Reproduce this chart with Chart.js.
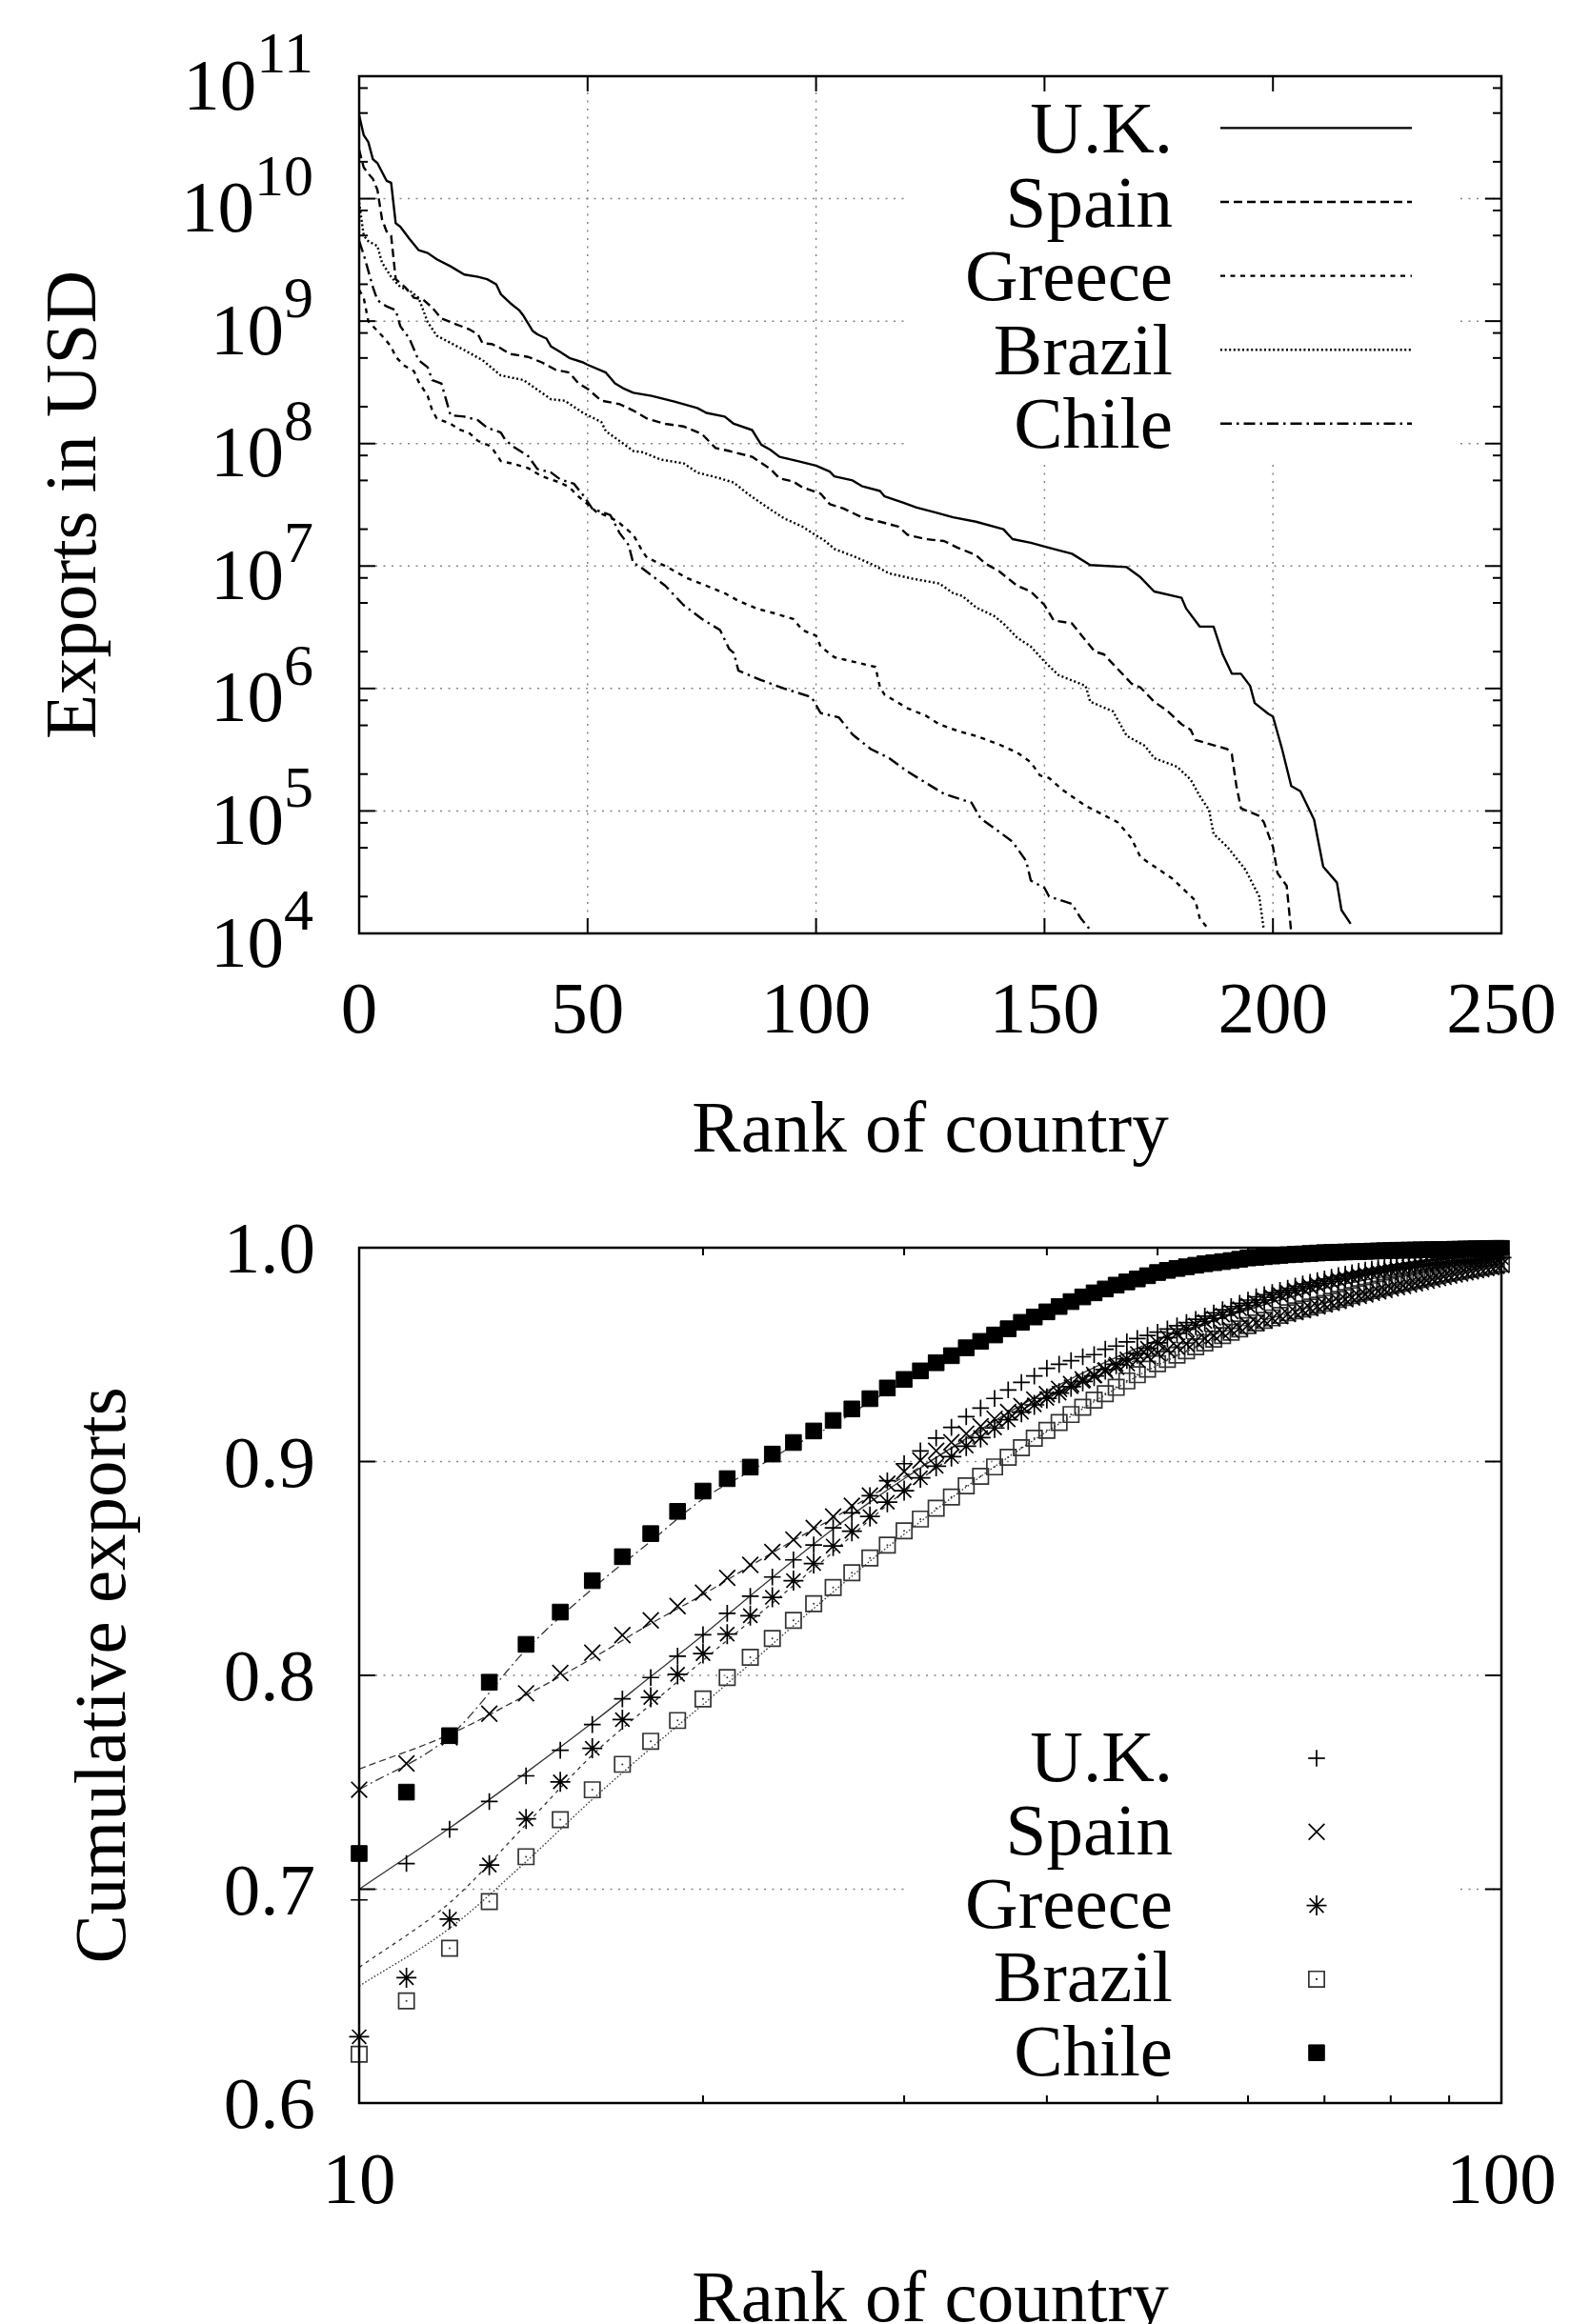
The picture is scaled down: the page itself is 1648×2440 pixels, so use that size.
<!DOCTYPE html>
<html>
<head>
<meta charset="utf-8">
<title>Exports by rank of country</title>
<script src="https://cdn.jsdelivr.net/npm/chart.js@4.4.1/dist/chart.umd.min.js"></script>
<style>
  html, body { margin: 0; padding: 0; background: #fff; }
  #page { position: relative; width: 1648px; height: 2440px; overflow: hidden; }
  canvas { position: absolute; left: 0; display: block; }
  #exportsChart { top: 0; }
  #cumulativeChart { top: 1220px; }
</style>
</head>
<body>
<div id="page">
<canvas id="cumulativeChart" width="1648" height="1220"></canvas>
<canvas id="exportsChart" width="1648" height="1250"></canvas>
</div>
<script>
// ---- top panel: exports (USD) to each partner, ranked ----
const ukRank = [0, 1, 2, 3, 4, 6, 7, 8, 9, 11, 13, 15, 17, 20, 23, 26, 28, 30, 31, 33, 35, 36, 38, 39, 41, 42, 44, 46, 49, 50, 54, 56, 58, 60, 64, 69, 74, 76, 80, 82, 86, 88, 90, 92, 96, 100, 103, 104, 108, 110, 114, 115, 119, 122, 126, 130, 135, 141, 143, 147, 151, 156, 160, 168, 171, 174, 180, 181, 184, 187, 189, 191, 193, 195, 196, 199, 200, 202, 204, 206, 209, 211, 214, 215, 217];
const ukExports = [4.8e10, 3.3e10, 2.9e10, 2.1e10, 1.95e10, 1.4e10, 1.35e10, 6.3e9, 5.9e9, 4.7e9, 3.8e9, 3.6e9, 3.2e9, 2.8e9, 2.4e9, 2.3e9, 2.2e9, 2.0e9, 1.66e9, 1.41e9, 1.23e9, 1.1e9, 8.3e8, 7.8e8, 7.2e8, 6.2e8, 5.6e8, 5.0e8, 4.6e8, 4.4e8, 3.8e8, 3.1e8, 2.8e8, 2.6e8, 2.45e8, 2.2e8, 1.95e8, 1.78e8, 1.66e8, 1.45e8, 1.29e8, 9.8e7, 8.9e7, 7.8e7, 7.2e7, 6.6e7, 5.9e7, 5.4e7, 5.0e7, 4.5e7, 4.1e7, 3.7e7, 3.3e7, 3.0e7, 2.75e7, 2.5e7, 2.3e7, 2.0e7, 1.66e7, 1.55e7, 1.41e7, 1.26e7, 1.02e7, 9.8e6, 8.1e6, 6.2e6, 5.5e6, 4.5e6, 3.2e6, 3.2e6, 1.9e6, 1.32e6, 1.32e6, 1.05e6, 7.6e5, 6.2e5, 5.9e5, 3.2e5, 1.6e5, 1.45e5, 8.5e4, 3.5e4, 2.6e4, 1.55e4, 1.2e4];

const spainRank = [0, 1, 2, 3, 4, 5, 6, 7, 8, 10, 12, 14, 16, 18, 21, 24, 26, 27, 29, 31, 33, 37, 40, 43, 46, 48, 50, 53, 57, 60, 63, 67, 71, 75, 78, 81, 86, 90, 92, 95, 97, 101, 103, 106, 110, 114, 118, 120, 124, 128, 131, 135, 137, 140, 144, 147, 150, 152, 156, 161, 163, 169, 171, 174, 177, 180, 182, 183, 190, 191, 192, 193, 197, 198, 200, 201, 203, 204];
const spainExports = [2.5e10, 1.8e10, 1.6e10, 1.45e10, 1.18e10, 6.8e9, 5.4e9, 5.0e9, 2.2e9, 1.9e9, 1.55e9, 1.5e9, 1.29e9, 1.05e9, 9.5e8, 8.6e8, 7.8e8, 6.6e8, 6.5e8, 6.0e8, 5.4e8, 5.1e8, 4.6e8, 4.0e8, 3.8e8, 3.1e8, 2.8e8, 2.24e8, 2.1e8, 1.86e8, 1.6e8, 1.45e8, 1.38e8, 1.2e8, 9.2e7, 8.7e7, 7.8e7, 6.2e7, 5.2e7, 4.9e7, 4.4e7, 3.9e7, 3.2e7, 2.95e7, 2.5e7, 2.3e7, 2.1e7, 1.8e7, 1.66e7, 1.6e7, 1.41e7, 1.23e7, 1.05e7, 9.1e6, 6.9e6, 6.2e6, 4.8e6, 3.6e6, 3.4e6, 2.0e6, 1.9e6, 1.1e6, 1.02e6, 7.8e5, 6.5e5, 5.1e5, 4.6e5, 3.8e5, 3.2e5, 2.9e5, 1.6e5, 1.05e5, 9.1e4, 8.1e4, 5.1e4, 3.1e4, 2.45e4, 1.02e4];

const greeceRank = [0, 1, 2, 3, 5, 7, 8, 10, 12, 13, 15, 16, 17, 20, 22, 24, 26, 28, 29, 31, 34, 37, 40, 42, 44, 46, 48, 50, 52, 55, 57, 60, 62, 63, 67, 72, 76, 80, 83, 87, 91, 95, 97, 100, 101, 104, 108, 113, 114, 115, 120, 124, 127, 131, 135, 140, 144, 147, 149, 151, 154, 159, 166, 169, 171, 178, 183, 184, 186];
const greeceExports = [1.8e9, 1.55e9, 1.0e9, 9.1e8, 7.6e8, 6.2e8, 5.1e8, 4.3e8, 3.9e8, 3.2e8, 2.45e8, 1.86e8, 1.6e8, 1.45e8, 1.3e8, 1.23e8, 1.05e8, 9.8e7, 9.3e7, 7.2e7, 6.8e7, 6.3e7, 5.4e7, 5.1e7, 4.8e7, 4.4e7, 3.7e7, 3.2e7, 2.75e7, 2.5e7, 2.24e7, 1.8e7, 1.32e7, 1.17e7, 1.0e7, 7.9e6, 6.9e6, 6.0e6, 5.2e6, 4.5e6, 4.1e6, 3.7e6, 3.0e6, 2.7e6, 2.2e6, 1.8e6, 1.66e6, 1.5e6, 1.02e6, 8.9e5, 6.9e5, 6.0e5, 5.1e5, 4.5e5, 4.1e5, 3.5e5, 3.0e5, 2.5e5, 1.95e5, 1.86e5, 1.48e5, 1.1e5, 8.1e4, 6.0e4, 4.2e4, 2.8e4, 1.86e4, 1.32e4, 1.07e4];

const brazilRank = [0, 1, 2, 4, 5, 7, 9, 11, 13, 15, 17, 23, 27, 31, 36, 42, 45, 49, 53, 54, 57, 60, 62, 66, 71, 74, 79, 82, 85, 90, 93, 97, 100, 102, 104, 109, 113, 116, 121, 127, 130, 132, 135, 139, 141, 144, 147, 150, 153, 159, 160, 165, 168, 172, 174, 179, 182, 184, 186, 187, 190, 194, 197, 198];
const brazilExports = [9.3e9, 5.0e9, 4.5e9, 4.1e9, 3.0e9, 2.3e9, 1.9e9, 1.78e9, 1.55e9, 9.8e8, 7.6e8, 5.8e8, 4.8e8, 3.6e8, 3.3e8, 2.3e8, 2.24e8, 1.78e8, 1.5e8, 1.26e8, 1.05e8, 8.7e7, 8.5e7, 7.4e7, 6.9e7, 5.8e7, 5.2e7, 4.8e7, 3.9e7, 2.9e7, 2.45e7, 2.1e7, 1.78e7, 1.6e7, 1.38e7, 1.17e7, 1.0e7, 8.7e6, 7.9e6, 7.2e6, 6.0e6, 5.7e6, 4.6e6, 3.9e6, 3.4e6, 2.6e6, 2.2e6, 1.66e6, 1.29e6, 1.05e6, 7.8e5, 6.5e5, 4.1e5, 3.4e5, 2.7e5, 2.3e5, 1.8e5, 1.32e5, 1.02e5, 6.5e4, 5.1e4, 3.3e4, 2.0e4, 1.07e4];

const chileRank = [0, 1, 3, 4, 6, 8, 9, 11, 13, 15, 16, 18, 20, 23, 26, 28, 31, 32, 34, 37, 39, 42, 44, 47, 49, 51, 55, 57, 59, 60, 61, 67, 71, 75, 79, 81, 82, 83, 88, 93, 99, 101, 105, 108, 112, 116, 120, 124, 128, 134, 136, 140, 143, 146, 147, 150, 151, 156, 158, 160];
const chileExports = [4.5e9, 3.5e9, 1.9e9, 1.48e9, 1.32e9, 1.23e9, 9.1e8, 7.2e8, 4.8e8, 4.2e8, 3.3e8, 3.1e8, 1.7e8, 1.66e8, 1.55e8, 1.35e8, 1.23e8, 1.07e8, 9.3e7, 7.9e7, 6.2e7, 5.8e7, 5.1e7, 4.7e7, 3.8e7, 2.95e7, 2.6e7, 1.86e7, 1.48e7, 1.05e7, 1.02e7, 6.9e6, 4.8e6, 3.7e6, 3.0e6, 2.1e6, 1.95e6, 1.4e6, 1.17e6, 1.0e6, 8.5e5, 6.3e5, 5.8e5, 4.2e5, 3.2e5, 2.7e5, 2.1e5, 1.7e5, 1.38e5, 1.17e5, 8.7e4, 6.8e4, 5.6e4, 3.9e4, 2.7e4, 2.35e4, 2.0e4, 1.74e4, 1.32e4, 1.07e4];

// ---- bottom panel: cumulative share of exports ----
const cumulativeRank = [10, 11, 12, 13, 14, 15, 16, 17, 18, 19, 20, 21, 22, 23, 24, 25, 26, 27, 28, 29, 30, 31, 32, 33, 34, 35, 36, 37, 38, 39, 40, 41, 42, 43, 44, 45, 46, 47, 48, 49, 50, 51, 52, 53, 54, 55, 56, 57, 58, 59, 60, 61, 62, 63, 64, 65, 66, 67, 68, 69, 70, 71, 72, 73, 74, 75, 76, 77, 78, 79, 80, 81, 82, 83, 84, 85, 86, 87, 88, 89, 90, 91, 92, 93, 94, 95, 96, 97, 98, 99, 100];
const ukCumulative = [0.695, 0.712, 0.728, 0.741, 0.753, 0.765, 0.777, 0.789, 0.799, 0.809, 0.819, 0.829, 0.837, 0.846, 0.854, 0.861, 0.869, 0.876, 0.884, 0.891, 0.899, 0.905, 0.911, 0.916, 0.921, 0.925, 0.9295, 0.9335, 0.937, 0.940, 0.9436, 0.9455, 0.9472, 0.949, 0.950, 0.9525, 0.954, 0.956, 0.9575, 0.959, 0.9605, 0.962, 0.9635, 0.965, 0.9665, 0.968, 0.9695, 0.971, 0.9725, 0.974, 0.9755, 0.977, 0.978, 0.979, 0.980, 0.981, 0.982, 0.983, 0.9838, 0.9846, 0.9854, 0.9862, 0.9869, 0.9876, 0.9883, 0.9889, 0.9895, 0.990, 0.9905, 0.991, 0.9915, 0.992, 0.9924, 0.9928, 0.9932, 0.9936, 0.994, 0.9943, 0.9946, 0.9949, 0.9952, 0.9955, 0.9957, 0.9959, 0.9961, 0.9963, 0.9965, 0.9967, 0.9969, 0.9971, 0.9973];
const spainCumulative = [0.7465, 0.7588, 0.771, 0.7821, 0.7916, 0.8011, 0.8106, 0.8188, 0.8257, 0.8324, 0.8387, 0.8456, 0.8517, 0.8577, 0.8635, 0.8689, 0.8743, 0.8793, 0.8841, 0.8897, 0.8953, 0.9005, 0.905, 0.909, 0.913, 0.9165, 0.92, 0.9232, 0.926, 0.929, 0.9315, 0.934, 0.9362, 0.9384, 0.9405, 0.9425, 0.9443, 0.946, 0.9476, 0.9492, 0.9507, 0.9522, 0.9537, 0.955, 0.9563, 0.9576, 0.9589, 0.9602, 0.9614, 0.9626, 0.9638, 0.9649, 0.966, 0.967, 0.968, 0.969, 0.9699, 0.9708, 0.9717, 0.9726, 0.9735, 0.9743, 0.9751, 0.9759, 0.9767, 0.9775, 0.9782, 0.9789, 0.9796, 0.9803, 0.981, 0.9816, 0.9822, 0.9828, 0.9834, 0.984, 0.9846, 0.9852, 0.9858, 0.9864, 0.987, 0.9875, 0.988, 0.9885, 0.989, 0.9895, 0.99, 0.9905, 0.991, 0.9915, 0.992];
const greeceCumulative = [0.631, 0.6586, 0.686, 0.7113, 0.7329, 0.7502, 0.7659, 0.7793, 0.7897, 0.8005, 0.8102, 0.8193, 0.8279, 0.8365, 0.8443, 0.8523, 0.8605, 0.8674, 0.8743, 0.881, 0.8864, 0.8924, 0.8978, 0.9023, 0.9072, 0.9112, 0.9157, 0.9195, 0.9231, 0.9265, 0.9295, 0.932, 0.935, 0.9375, 0.940, 0.943, 0.9455, 0.948, 0.9505, 0.953, 0.9555, 0.958, 0.960, 0.962, 0.9638, 0.9655, 0.967, 0.9685, 0.970, 0.9715, 0.973, 0.9743, 0.9756, 0.9768, 0.978, 0.979, 0.980, 0.981, 0.9818, 0.9826, 0.9834, 0.9842, 0.985, 0.9857, 0.9864, 0.987, 0.9876, 0.9882, 0.9887, 0.9892, 0.9897, 0.9901, 0.9905, 0.9909, 0.9913, 0.9917, 0.992, 0.9923, 0.9926, 0.9929, 0.9932, 0.9935, 0.9938, 0.994, 0.9942, 0.9944, 0.9946, 0.9948, 0.995, 0.9952, 0.9954];
const brazilCumulative = [0.6228, 0.6478, 0.6724, 0.6942, 0.7152, 0.7325, 0.7465, 0.7584, 0.7692, 0.7789, 0.789, 0.799, 0.8085, 0.8173, 0.8257, 0.8335, 0.8411, 0.848, 0.8549, 0.8609, 0.8676, 0.8731, 0.8782, 0.8834, 0.8886, 0.8931, 0.8975, 0.902, 0.9065, 0.9109, 0.9146, 0.9183, 0.922, 0.9254, 0.9287, 0.9317, 0.9347, 0.9377, 0.9406, 0.9432, 0.9458, 0.9478, 0.9498, 0.9518, 0.9537, 0.9555, 0.9572, 0.9589, 0.9605, 0.962, 0.9636, 0.9648, 0.966, 0.9672, 0.9684, 0.9696, 0.9705, 0.9714, 0.9723, 0.9732, 0.974, 0.9749, 0.9758, 0.9767, 0.9776, 0.9785, 0.9792, 0.9799, 0.9806, 0.9814, 0.9822, 0.9828, 0.9834, 0.984, 0.9846, 0.9852, 0.9858, 0.9864, 0.987, 0.9876, 0.9881, 0.9886, 0.989, 0.9895, 0.9899, 0.9903, 0.9907, 0.9911, 0.9915, 0.992, 0.9925];
const chileCumulative = [0.7167, 0.7454, 0.7718, 0.7968, 0.8145, 0.8296, 0.8443, 0.8555, 0.8663, 0.8767, 0.8862, 0.892, 0.8974, 0.9035, 0.9089, 0.9143, 0.9192, 0.9246, 0.9294, 0.9344, 0.9384, 0.9424, 0.9462, 0.9495, 0.9532, 0.9562, 0.9592, 0.9621, 0.9651, 0.9676, 0.970, 0.9725, 0.9748, 0.977, 0.9789, 0.9807, 0.9825, 0.984, 0.9854, 0.9869, 0.9884, 0.9894, 0.9903, 0.9911, 0.9918, 0.9925, 0.993, 0.9935, 0.994, 0.9946, 0.9952, 0.9955, 0.9958, 0.9961, 0.9964, 0.9967, 0.9969, 0.9971, 0.9973, 0.9975, 0.9977, 0.9978, 0.9979, 0.998, 0.9981, 0.9982, 0.9983, 0.9984, 0.9985, 0.9986, 0.9987, 0.9988, 0.9988, 0.9989, 0.9989, 0.999, 0.999, 0.9991, 0.9991, 0.9992, 0.9992, 0.9993, 0.9993, 0.9994, 0.9994, 0.9995, 0.9995, 0.9996, 0.9996, 0.9997, 0.9997];

// fitted curves drawn through the cumulative points
const fitRank = [10, 12, 14, 16, 18, 20, 22, 24, 26, 28, 30, 35, 40, 50, 60, 70, 80, 90, 100];
const ukFit = [0.700, 0.7286, 0.7545, 0.7778, 0.7994, 0.8188, 0.8372, 0.8538, 0.8685, 0.881, 0.892, 0.915, 0.933, 0.957, 0.971, 0.981, 0.987, 0.991, 0.994];
const spainFit = [0.7562, 0.7724, 0.7908, 0.808, 0.8242, 0.8378, 0.8512, 0.8631, 0.8735, 0.8836, 0.893, 0.914, 0.930, 0.951, 0.964, 0.974, 0.981, 0.987, 0.992];
const greeceFit = [0.6634, 0.6936, 0.7303, 0.7627, 0.7864, 0.807, 0.8253, 0.842, 0.8577, 0.8728, 0.886, 0.911, 0.929, 0.955, 0.971, 0.981, 0.987, 0.991, 0.994];
const brazilFit = [0.6547, 0.6817, 0.7129, 0.742, 0.7659, 0.7864, 0.8055, 0.8232, 0.839, 0.8534, 0.866, 0.893, 0.914, 0.945, 0.963, 0.974, 0.982, 0.988, 0.992];
const chileFit = [0.7465, 0.7715, 0.812, 0.8405, 0.8627, 0.8825, 0.8955, 0.9074, 0.9171, 0.9279, 0.937, 0.955, 0.969, 0.986, 0.994, 0.997, 0.998, 0.999, 0.9995];

// ---- ticks and labels ----
const countries = ['U.K.', 'Spain', 'Greece', 'Brazil', 'Chile'];
const exportTicks = [1e4, 1e5, 1e6, 1e7, 1e8, 1e9, 1e10, 1e11];
const exportTickExponents = ['4', '5', '6', '7', '8', '9', '10', '11'];
const exportGrid = [1e5, 1e6, 1e7, 1e8, 1e9, 1e10];
const rankTicks = [0, 50, 100, 150, 200, 250];
const rankGrid = [50, 100, 150, 200];
const shareTicks = [0.6, 0.7, 0.8, 0.9, 1.0];
const shareTickLabels = ['0.6', '0.7', '0.8', '0.9', '1.0'];
const shareGrid = [0.7, 0.8, 0.9];
const cumulativeRankTicks = [10, 100];
const cumulativeRankMinor = [20, 30, 40, 50, 60, 70, 80, 90];

const FONT = '"Liberation Serif", "Times New Roman", serif';
const INK = '#000';
const GRID_COLOR = '#858585';
const DASHES = [[], [9, 5], [5, 5.5], [2, 2.6], [12, 5, 2.5, 5]];

// minor ticks of the log axis sit at 2, 5 and 8 of each decade
const exportMinor = [];
for (let k = 0; k < exportTicks.length - 1; k++) {
  [2, 5, 8].forEach(m => exportMinor.push(m * exportTicks[k]));
}

function strokeLine(ctx, x1, y1, x2, y2) {
  ctx.beginPath();
  ctx.moveTo(x1, y1);
  ctx.lineTo(x2, y2);
  ctx.stroke();
}

// gnuplot-like frame: dotted grid, opaque key, mirrored inward ticks
function gnuplotFrame(cfg) {
  return {
    id: 'gnuplotFrame',
    beforeDatasetsDraw(chart) {
      const {ctx, chartArea: a, scales: {x, y}} = chart;
      ctx.save();
      ctx.strokeStyle = GRID_COLOR;
      ctx.lineWidth = 1.5;
      ctx.setLineDash([2, 6.5]);
      cfg.gridX.forEach(v => {
        const p = x.getPixelForValue(v);
        strokeLine(ctx, p, a.top, p, a.bottom);
      });
      cfg.gridY.forEach(v => {
        const p = y.getPixelForValue(v);
        strokeLine(ctx, a.left, p, a.right, p);
      });
      const k = cfg.keyBox;
      ctx.fillStyle = '#fff';
      ctx.fillRect(k.left, k.top, k.right - k.left, k.bottom - k.top);
      ctx.restore();
    },
    afterDatasetsDraw(chart) {
      const {ctx, chartArea: a, scales: {x, y}} = chart;
      ctx.save();
      ctx.setLineDash([]);
      ctx.strokeStyle = INK;
      ctx.lineWidth = 2.5;
      ctx.strokeRect(a.left, a.top, a.right - a.left, a.bottom - a.top);
      ctx.lineWidth = 2;
      cfg.xMajor.forEach(v => {
        const p = x.getPixelForValue(v);
        strokeLine(ctx, p, a.bottom, p, a.bottom - 16);
        strokeLine(ctx, p, a.top, p, a.top + 16);
      });
      cfg.xMinor.forEach(v => {
        const p = x.getPixelForValue(v);
        strokeLine(ctx, p, a.bottom, p, a.bottom - 8);
        strokeLine(ctx, p, a.top, p, a.top + 8);
      });
      cfg.yMajor.forEach(v => {
        const p = y.getPixelForValue(v);
        strokeLine(ctx, a.left, p, a.left + 17, p);
        strokeLine(ctx, a.right, p, a.right - 17, p);
      });
      cfg.yMinor.forEach(v => {
        const p = y.getPixelForValue(v);
        strokeLine(ctx, a.left, p, a.left + 9, p);
        strokeLine(ctx, a.right, p, a.right - 9, p);
      });
      ctx.fillStyle = INK;
      ctx.textBaseline = 'alphabetic';
      cfg.drawText(ctx, chart);
      ctx.restore();
    }
  };
}

function drawAxisTitles(ctx, a, xTitle, yTitle, yTitleX) {
  ctx.font = '77px ' + FONT;
  ctx.textAlign = 'center';
  ctx.fillText(xTitle, (a.left + a.right) / 2, a.bottom + 229);
  ctx.save();
  ctx.translate(yTitleX, (a.top + a.bottom) / 2);
  ctx.rotate(-Math.PI / 2);
  ctx.fillText(yTitle, 0, 0);
  ctx.restore();
}

function drawExportText(ctx, chart) {
  const {chartArea: a, scales: {x, y}} = chart;
  // 10^k labels with raised exponents
  exportTicks.forEach((v, i) => {
    const p = y.getPixelForValue(v);
    const exp = exportTickExponents[i];
    ctx.font = '62px ' + FONT;
    const ew = ctx.measureText(exp).width;
    ctx.font = '77px ' + FONT;
    const bw = ctx.measureText('10').width;
    ctx.textAlign = 'left';
    ctx.fillText('10', 329 - ew - bw, p + 34.5);
    ctx.font = '62px ' + FONT;
    ctx.fillText(exp, 329 - ew, p - 4);
  });
  ctx.font = '77px ' + FONT;
  ctx.textAlign = 'center';
  rankTicks.forEach(v => ctx.fillText(String(v), x.getPixelForValue(v), a.bottom + 104));
  drawAxisTitles(ctx, a, 'Rank of country', 'Exports in USD', 100);

  // key: label, then a sample of the line style
  chart.data.datasets.forEach((ds, i) => {
    const base = 160 + 77.6 * i;
    ctx.font = '77px ' + FONT;
    ctx.textAlign = 'right';
    ctx.fillText(ds.label, 1231, base);
    ctx.save();
    ctx.lineWidth = ds.borderWidth;
    ctx.setLineDash(ds.borderDash);
    strokeLine(ctx, 1281, base - 25.6, 1482, base - 25.6);
    ctx.restore();
  });
}

function drawMarker(ctx, ds, x, y) {
  const r = ds.pointRadius;
  ctx.save();
  ctx.setLineDash([]);
  ctx.lineWidth = ds.pointBorderWidth;
  ctx.strokeStyle = ds.pointBorderColor;
  ctx.fillStyle = ds.pointBackgroundColor;
  const d = r * Math.SQRT1_2;
  if (ds.pointStyle === 'cross' || ds.pointStyle === 'star') {
    strokeLine(ctx, x - r, y, x + r, y);
    strokeLine(ctx, x, y - r, x, y + r);
  }
  if (ds.pointStyle === 'crossRot' || ds.pointStyle === 'star') {
    strokeLine(ctx, x - d, y - d, x + d, y + d);
    strokeLine(ctx, x - d, y + d, x + d, y - d);
  }
  if (ds.pointStyle === 'rect') {
    ctx.beginPath();
    ctx.rect(x - d, y - d, 2 * d, 2 * d);
    ctx.fill();
    ctx.stroke();
    if (ds.centreDot) {
      ctx.fillStyle = ds.pointBorderColor;
      ctx.fillRect(x - 1, y - 1, 2, 2);
    }
  }
  ctx.restore();
}

function drawCumulativeText(ctx, chart) {
  const {chartArea: a, scales: {x, y}} = chart;
  ctx.font = '77px ' + FONT;
  ctx.textAlign = 'right';
  shareTicks.forEach((v, i) => ctx.fillText(shareTickLabels[i], 331, y.getPixelForValue(v) + 26.3));
  ctx.textAlign = 'center';
  cumulativeRankTicks.forEach(v => ctx.fillText(String(v), x.getPixelForValue(v), a.bottom + 105));
  drawAxisTitles(ctx, a, 'Rank of country', 'Cumulative exports', 131);

  chart.data.datasets.filter(ds => ds.inKey).forEach((ds, i) => {
    const base = 649.5 + 77.3 * i;
    ctx.font = '77px ' + FONT;
    ctx.textAlign = 'right';
    ctx.fillStyle = INK;
    ctx.fillText(ds.label, 1231, base);
    drawMarker(ctx, ds, 1382, base - 23.5);
  });
}

function pairs(xs, ys) {
  return xs.map((v, i) => ({x: v, y: ys[i]}));
}

function fixedScale(extra, size) {
  return Object.assign({
    display: true,
    ticks: {display: false},
    grid: {display: false, drawTicks: false},
    border: {display: false},
    title: {display: false}
  }, extra, {
    afterFit(scale) {
      if (scale.isHorizontal()) scale.height = size; else scale.width = size;
    }
  });
}

const baseOptions = {
  responsive: false,
  animation: false,
  devicePixelRatio: 1,
  events: [],
  plugins: {legend: {display: false}, tooltip: {enabled: false}}
};

// ---- top chart (canvas is a little taller so the title's descender is not cut) ----
const exportSeries = [
  [ukRank, ukExports], [spainRank, spainExports], [greeceRank, greeceExports],
  [brazilRank, brazilExports], [chileRank, chileExports]
];

new Chart(document.getElementById('exportsChart'), {
  type: 'line',
  data: {
    datasets: exportSeries.map(([r, v], i) => ({
      label: countries[i],
      data: pairs(r, v),
      borderColor: INK,
      borderWidth: 2.4,
      borderDash: DASHES[i],
      borderJoinStyle: 'round',
      pointRadius: 0,
      tension: 0,
      fill: false
    }))
  },
  options: Object.assign({}, baseOptions, {
    layout: {padding: {left: 0, top: 80, right: 72, bottom: 0}, autoPadding: false},
    scales: {
      x: fixedScale({type: 'linear', position: 'bottom', min: 0, max: 250}, 270),
      y: fixedScale({type: 'logarithmic', position: 'left', min: 1e4, max: 1e11}, 377)
    }
  }),
  plugins: [gnuplotFrame({
    gridX: rankGrid, gridY: exportGrid,
    xMajor: rankTicks, xMinor: [],
    yMajor: exportTicks, yMinor: exportMinor,
    keyBox: {left: 950, right: 1530, top: 84, bottom: 488},
    drawText: drawExportText
  })]
});

// ---- bottom chart ----
const markerStyles = [
  {pointStyle: 'cross', pointRadius: 8.8, pointBorderColor: '#000', pointBackgroundColor: 'rgba(0,0,0,0)', pointBorderWidth: 1.7},
  {pointStyle: 'crossRot', pointRadius: 11.8, pointBorderColor: '#000', pointBackgroundColor: 'rgba(0,0,0,0)', pointBorderWidth: 1.7},
  {pointStyle: 'star', pointRadius: 10.5, pointBorderColor: '#000', pointBackgroundColor: 'rgba(0,0,0,0)', pointBorderWidth: 1.7},
  {pointStyle: 'rect', pointRadius: 11.5, pointBorderColor: '#333', pointBackgroundColor: 'rgba(0,0,0,0)', pointBorderWidth: 1.7, centreDot: true},
  {pointStyle: 'rect', pointRadius: 11.7, pointBorderColor: '#000', pointBackgroundColor: '#000', pointBorderWidth: 1}
];
const cumulativeSeries = [ukCumulative, spainCumulative, greeceCumulative, brazilCumulative, chileCumulative];
const fitSeries = [ukFit, spainFit, greeceFit, brazilFit, chileFit];

const cumulativeDatasets = [];
cumulativeSeries.forEach((vals, i) => {
  cumulativeDatasets.push(Object.assign({
    label: countries[i],
    inKey: true,
    data: pairs(cumulativeRank, vals),
    showLine: false,
    clip: false
  }, markerStyles[i]));
});
// small dot in the middle of each open square
cumulativeDatasets.push({
  label: 'Brazil centre',
  data: pairs(cumulativeRank, brazilCumulative),
  showLine: false,
  clip: false,
  pointStyle: 'circle',
  pointRadius: 1,
  pointBorderWidth: 0,
  pointBackgroundColor: '#333'
});
fitSeries.forEach((vals, i) => {
  cumulativeDatasets.push({
    label: countries[i] + ' fit',
    data: pairs(fitRank, vals),
    borderColor: '#333',
    borderWidth: 1.3,
    borderDash: DASHES[i].length ? DASHES[i].map(v => v * 0.8) : [],
    pointRadius: 0,
    cubicInterpolationMode: 'monotone',
    fill: false
  });
});

new Chart(document.getElementById('cumulativeChart'), {
  type: 'line',
  data: {datasets: cumulativeDatasets},
  options: Object.assign({}, baseOptions, {
    layout: {padding: {left: 0, top: 90, right: 72, bottom: 0}, autoPadding: false},
    scales: {
      x: fixedScale({type: 'logarithmic', position: 'bottom', min: 10, max: 100}, 232),
      y: fixedScale({type: 'linear', position: 'left', min: 0.6, max: 1.0}, 377)
    }
  }),
  plugins: [gnuplotFrame({
    gridX: [], gridY: shareGrid,
    xMajor: cumulativeRankTicks, xMinor: cumulativeRankMinor,
    yMajor: shareTicks, yMinor: [],
    keyBox: {left: 950, right: 1530, top: 590, bottom: 980},
    drawText: drawCumulativeText
  })]
});
</script>
</body>
</html>
